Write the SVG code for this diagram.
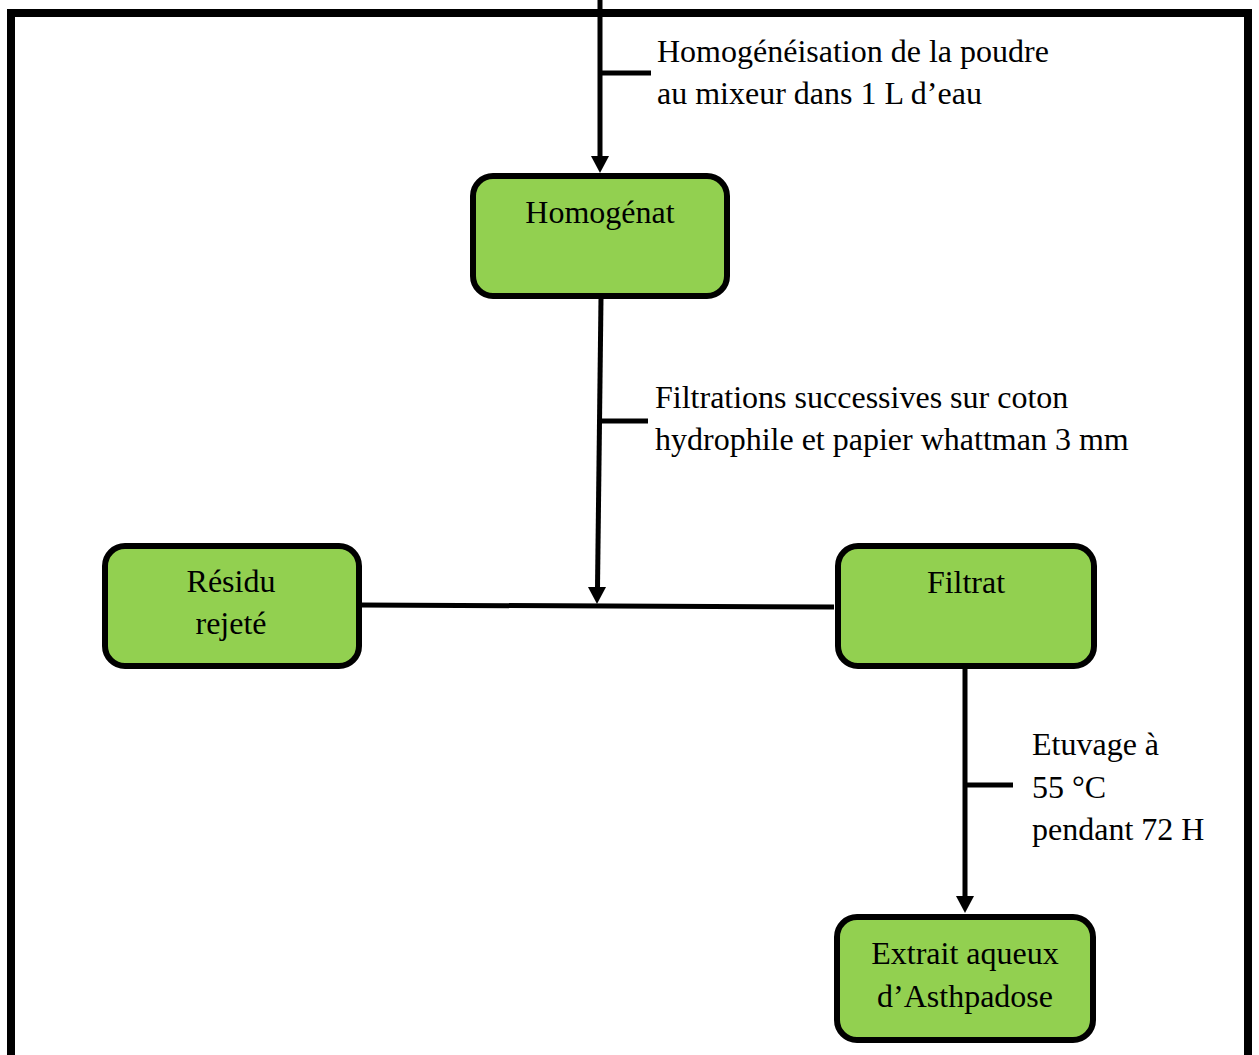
<svg xmlns="http://www.w3.org/2000/svg" width="1259" height="1055" viewBox="0 0 1259 1055">
<style>
.box{fill:#92D050;stroke:#000;stroke-width:6}
.ln{stroke:#000;stroke-width:5;fill:none}
.ah{fill:#000}
.t{font-family:"Liberation Serif","Times New Roman",serif;font-size:32px;fill:#000}
.c{text-anchor:middle}
</style>
<rect x="11" y="13" width="1237" height="1060" fill="none" stroke="#000" stroke-width="8"/>
<g id="connectors">
<line class="ln" x1="600" y1="0" x2="600" y2="158"/>
<path class="ah" d="M591,156 L609,156 L600,173 Z"/>
<line class="ln" x1="600" y1="73" x2="651" y2="73"/>
<line class="ln" x1="601" y1="298" x2="597.5" y2="588"/>
<path class="ah" d="M588,587 L606,587 L597,604 Z"/>
<line class="ln" x1="598" y1="421" x2="648" y2="421"/>
<line class="ln" x1="360" y1="605" x2="834" y2="607"/>
<line class="ln" x1="965" y1="669" x2="965" y2="898"/>
<path class="ah" d="M956,896 L974,896 L965,913 Z"/>
<line class="ln" x1="965" y1="785" x2="1013" y2="785"/>
</g>
<g id="lbl1">
<text class="t" x="657" y="62">Homogénéisation de la poudre</text>
<text class="t" x="657" y="104">au mixeur dans 1 L d’eau</text>
</g>
<g id="lbl2">
<text class="t" x="655" y="408">Filtrations successives sur coton</text>
<text class="t" x="655" y="450">hydrophile et papier whattman 3 mm</text>
</g>
<g id="lbl3">
<text class="t" x="1032" y="755">Etuvage à</text>
<text class="t" x="1032" y="798">55 °C</text>
<text class="t" x="1032" y="840">pendant 72 H</text>
</g>
<g id="homogenat">
<rect class="box" x="473" y="176" width="254" height="120" rx="20"/>
<text class="t c" x="600" y="223">Homogénat</text>
</g>
<g id="residu">
<rect class="box" x="105" y="546" width="254" height="120" rx="20"/>
<text class="t c" x="231" y="592">Résidu</text>
<text class="t c" x="231" y="634">rejeté</text>
</g>
<g id="filtrat">
<rect class="box" x="838" y="546" width="256" height="120" rx="20"/>
<text class="t c" x="966" y="593">Filtrat</text>
</g>
<g id="extrait">
<rect class="box" x="837" y="917" width="256" height="123" rx="20"/>
<text class="t c" x="965" y="964">Extrait aqueux</text>
<text class="t c" x="965" y="1007">d’Asthpadose</text>
</g>
</svg>
